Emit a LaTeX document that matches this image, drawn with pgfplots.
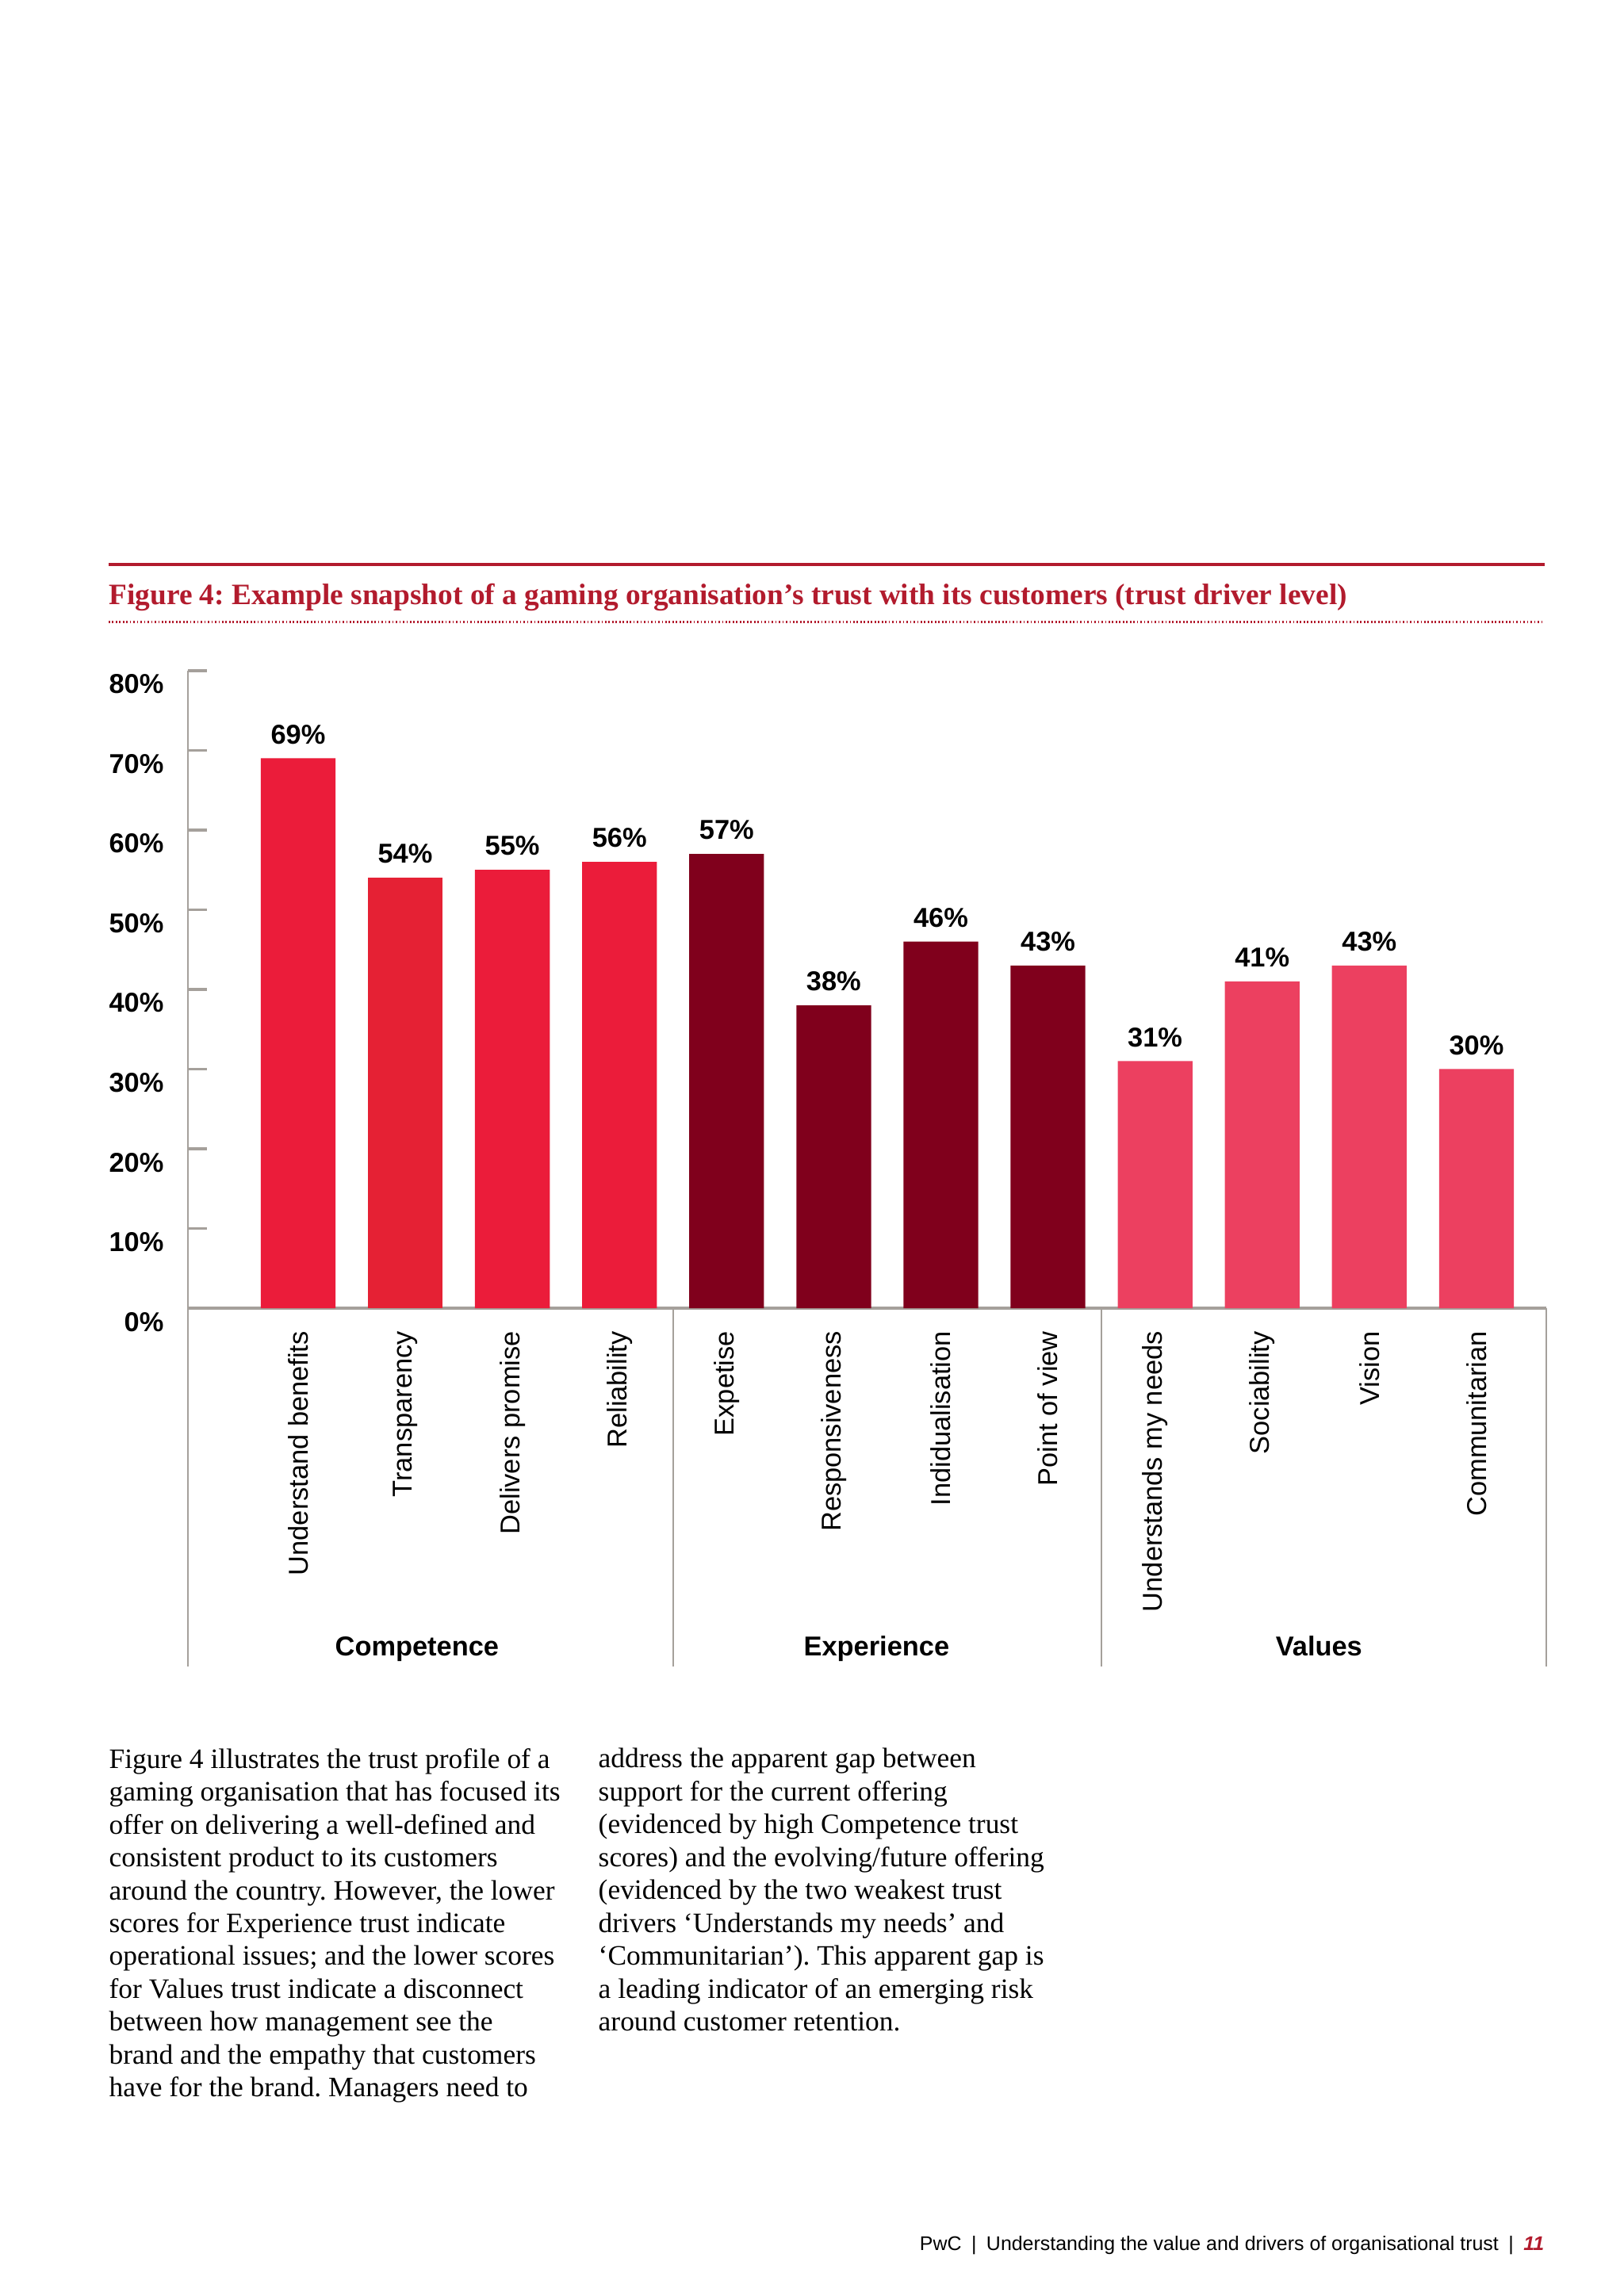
\documentclass[border=0pt]{standalone}
\usepackage{pgfplots}
\pgfplotsset{compat=1.18}
\usepackage{fontspec}
\setmainfont{Liberation Serif}
\setsansfont{Liberation Sans}
\frenchspacing

\definecolor{compred}{RGB}{235,28,58}
\definecolor{transred}{RGB}{229,33,52}
\definecolor{expred}{RGB}{128,0,28}
\definecolor{valpink}{RGB}{236,64,96}
\definecolor{pwcred}{RGB}{178,27,45}
\definecolor{axgray}{RGB}{165,160,155}

\begin{document}
\begin{tikzpicture}
% page (A4, in pt)
\fill[white] (0,0) rectangle (595.28pt,841.89pt);

% heading
\draw[pwcred, line width=1.1pt] (39.8pt,634.8pt) -- (566.2pt,634.8pt);
\node[anchor=base west, inner sep=0pt, text=pwcred,
      font=\fontsize{10.85}{12}\selectfont\bfseries] at (39.8pt,620.3pt)
  {Figure 4: Example snapshot of a gaming organisation’s trust with its customers (trust driver level)};
\draw[pwcred, line width=0.8pt, dash pattern=on 0.5pt off 0.8pt] (39.8pt,613.9pt) -- (566.2pt,613.9pt);

\begin{axis}[
    at={(68.8pt,362.2pt)}, anchor=south west,
    scale only axis,
    width=498pt, height=233.8pt,
    xmin=-1.031, xmax=11.65,
    ymin=0, ymax=80,
    axis x line=bottom, axis y line=left,
    axis line style={-, draw=axgray},
    x axis line style={line width=1.2pt},
    y axis line style={line width=0.6pt},
    clip=false,
    /pgf/number format/assume math mode=true,
    xtick={0,...,11},
    xticklabels={Understand benefits, Transparency, Delivers promise, Reliability,
                 Expetise, Responsiveness, Indidualisation, Point of view,
                 Understands my needs, Sociability, Vision, Communitarian},
    xtick style={draw=none},
    xticklabel style={rotate=90, anchor=east, inner sep=0pt,
                      font=\sffamily\fontsize{10}{12}\selectfont},
    xticklabel shift=1.3pt,
    ytick={0,10,...,80},
    yticklabels={0\%,10\%,20\%,30\%,40\%,50\%,60\%,70\%,80\%},
    yticklabel style={anchor=east, inner sep=0pt, yshift=-5pt,
                      font=\sffamily\bfseries\fontsize{10}{12}\selectfont},
    yticklabel shift=8.6pt,
    tick align=inside,
    major tick length=7pt,
    ytick style={draw=axgray, line width=1pt},
    ybar, bar width=27.4pt, bar shift=0pt,
    nodes near coords={\pgfmathprintnumber{\pgfplotspointmeta}\%},
    every node near coord/.append style={inner sep=0pt, yshift=5pt, text=black,
                      font=\sffamily\bfseries\fontsize{10}{12}\selectfont},
]
% Competence
\addplot[fill=compred, draw=none] coordinates {(0,69) (2,55) (3,56)};
\addplot[fill=transred, draw=none] coordinates {(1,54)};
% Experience
\addplot[fill=expred, draw=none] coordinates {(4,57) (5,38) (6,46) (7,43)};
% Values
\addplot[fill=valpink, draw=none] coordinates {(8,31) (9,41) (10,43) (11,30)};

% group frame below the axis
\draw[axgray, line width=0.6pt] (axis cs:-1.031,0) -- (axis cs:-1.031,-45);
\draw[axgray, line width=0.6pt] (axis cs:3.5,0) -- (axis cs:3.5,-45);
\draw[axgray, line width=0.6pt] (axis cs:7.5,0) -- (axis cs:7.5,-45);
\draw[axgray, line width=0.6pt] (axis cs:11.65,0) -- (axis cs:11.65,-45);

\node[anchor=base, font=\sffamily\bfseries\fontsize{10}{12}\selectfont] at (axis cs:1.11,-43.6) {Competence};
\node[anchor=base, font=\sffamily\bfseries\fontsize{10}{12}\selectfont] at (axis cs:5.4,-43.6) {Experience};
\node[anchor=base, font=\sffamily\bfseries\fontsize{10}{12}\selectfont] at (axis cs:9.53,-43.6) {Values};
\end{axis}

% body text
\node[anchor=north west, inner sep=0pt, align=left,
      font=\fontsize{10.3}{12.05}\selectfont] at (39.8pt,201.0pt)
  {Figure 4 illustrates the trust profile of a\\
   gaming organisation that has focused its\\
   offer on delivering a well-defined and\\
   consistent product to its customers\\
   around the country. However, the lower\\
   scores for Experience trust indicate\\
   operational issues; and the lower scores\\
   for Values trust indicate a disconnect\\
   between how management see the\\
   brand and the empathy that customers\\
   have for the brand. Managers need to};
\node[anchor=north west, inner sep=0pt, align=left,
      font=\fontsize{10.3}{12.05}\selectfont] at (219.2pt,201.0pt)
  {address the apparent gap between\\
   support for the current offering\\
   (evidenced by high Competence trust\\
   scores) and the evolving/future offering\\
   (evidenced by the two weakest trust\\
   drivers ‘Understands my needs’ and\\
   ‘Communitarian’). This apparent gap is\\
   a leading indicator of an emerging risk\\
   around customer retention.};

% footer
\node[anchor=base east, inner sep=0pt, font=\sffamily\fontsize{7.25}{9}\selectfont]
  at (566.3pt,16.6pt)
  {PwC\enspace|\enspace Understanding the value and drivers of organisational trust\enspace|\enspace\textcolor{pwcred}{\bfseries\itshape 11}};
\end{tikzpicture}
\end{document}
